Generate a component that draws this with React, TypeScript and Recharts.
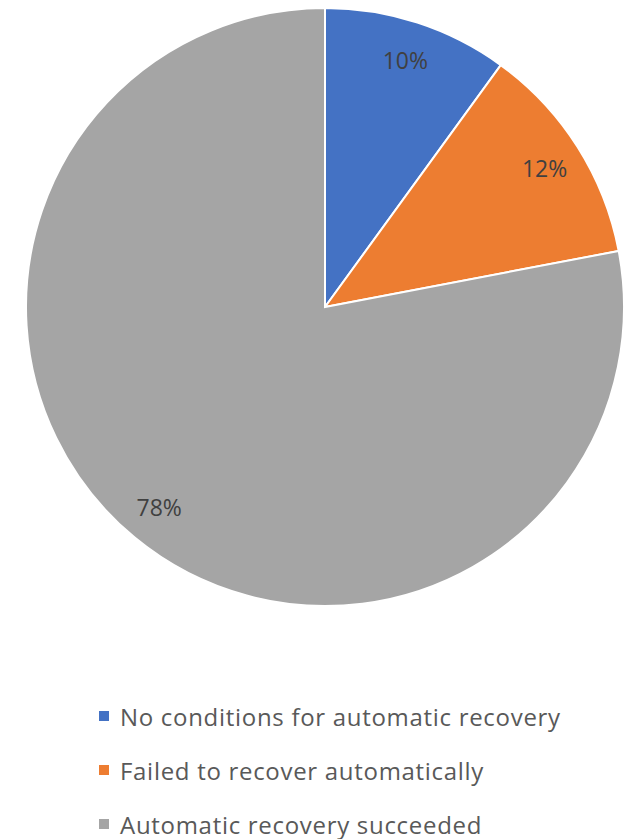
import { PieChart, Pie, Cell, Legend } from 'recharts'

const categories = [
  'No conditions for automatic recovery',
  'Failed to recover automatically',
  'Automatic recovery succeeded',
]
const shares = [10, 12, 78]
const colors = ['#4472C4', '#ED7D31', '#A5A5A5']

const data = categories.map((name, i) => ({ name, value: shares[i] }))

const RAD = Math.PI / 180

function renderLabel(props: any) {
  const { cx, cy, midAngle, outerRadius, value } = props
  const r = outerRadius * 0.87
  const x = cx + r * Math.cos(-midAngle * RAD)
  const y = cy + r * Math.sin(-midAngle * RAD)
  return (
    <text
      x={x}
      y={y}
      fill="#404040"
      fontSize={23}
      fontFamily="'Open Sans', sans-serif"
      textAnchor="middle"
      dominantBaseline="central"
    >
      {value}%
    </text>
  )
}

function LegendList() {
  return (
    <div
      style={{
        fontFamily: "'Open Sans', sans-serif",
        fontSize: 24,
        letterSpacing: 0.7,
        color: '#595959',
      }}
    >
      {data.map((d, i) => (
        <div key={d.name} style={{ display: 'flex', alignItems: 'center', height: 54 }}>
          <span
            style={{
              display: 'inline-block',
              width: 10,
              height: 10,
              background: colors[i],
              marginLeft: 99,
              marginRight: 11,
            }}
          />
          <span>{d.name}</span>
        </div>
      ))}
    </div>
  )
}

export default function App() {
  return (
    <div style={{ position: 'absolute', left: 0, top: 0, background: '#fff' }}>
      <PieChart width={636} height={839} margin={{ top: 0, right: 0, bottom: 0, left: 0 }}>
        <Pie
          data={data}
          dataKey="value"
          nameKey="name"
          cx={325}
          cy={307}
          outerRadius={299}
          startAngle={90}
          endAngle={-270}
          stroke="#fff"
          strokeWidth={2}
          label={renderLabel}
          labelLine={false}
          isAnimationActive={false}
        >
          {data.map((d, i) => (
            <Cell key={d.name} fill={colors[i]} />
          ))}
        </Pie>
        <Legend
          content={() => <LegendList />}
          wrapperStyle={{ left: 0, top: 689, width: 636 }}
        />
      </PieChart>
    </div>
  )
}
